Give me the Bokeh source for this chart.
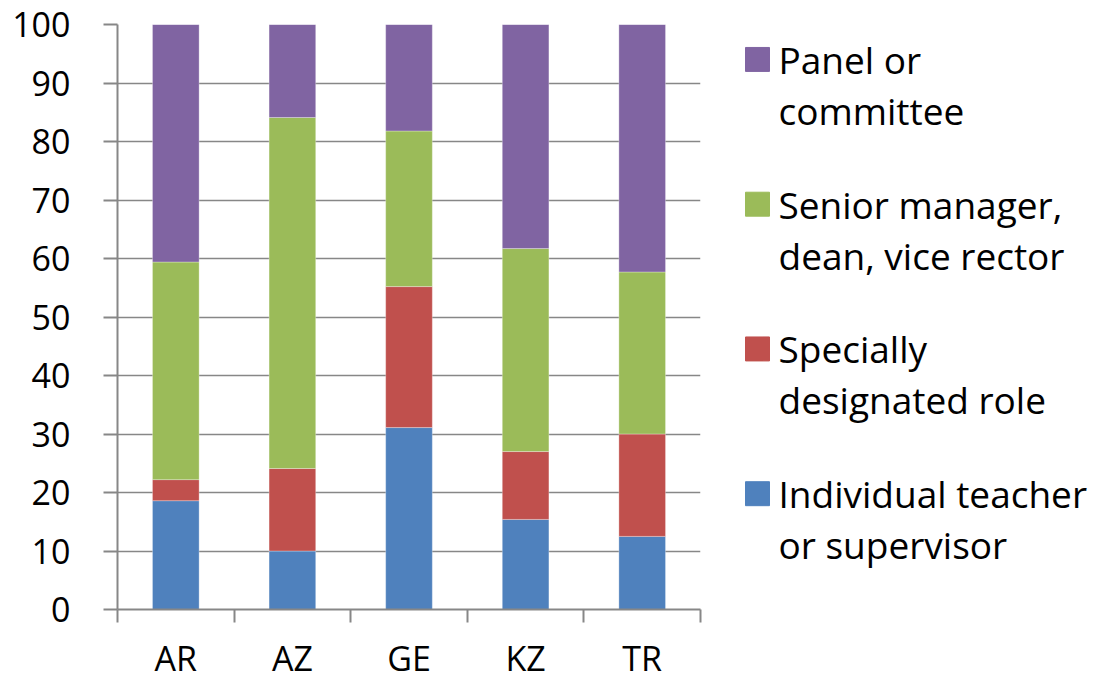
from bokeh.plotting import figure
from bokeh.layouts import row
from bokeh.models import Range1d, LinearAxis, FixedTicker, ColumnDataSource
from bokeh.core.properties import value
from bokeh.embed import file_html
from bokeh.resources import INLINE

categories = ["AR", "AZ", "GE", "KZ", "TR"]
individual = [18.6, 10.0, 31.1, 15.4, 12.5]
specially = [3.6, 14.1, 24.1, 11.6, 17.5]
senior = [37.2, 60.0, 26.6, 34.7, 27.7]
panel = [40.6, 15.9, 18.2, 38.3, 42.3]
series_names = ["Individual teacher\nor supervisor", "Specially\ndesignated role",
                "Senior manager,\ndean, vice rector", "Panel or\ncommittee"]
colors = ["#4F81BD", "#C0504D", "#9BBB59", "#8064A2"]
y_ticks = [0, 10, 20, 30, 40, 50, 60, 70, 80, 90, 100]

FONT = "Open Sans"
GRAY = "#878787"

W_MAIN, H = 720, 683
xs = [i + 0.5 for i in range(len(categories))]
bounds = list(range(len(categories) + 1))
src = ColumnDataSource(dict(x=xs, s0=individual, s1=specially, s2=senior, s3=panel))

p = figure(width=W_MAIN, height=H, x_range=Range1d(0, len(categories)), y_range=Range1d(0, 100),
           output_backend="svg", toolbar_location=None,
           min_border_left=117, min_border_right=20, min_border_top=24, min_border_bottom=73,
           x_axis_location=None, y_axis_location=None)
p.outline_line_color = None
p.vbar_stack(["s0", "s1", "s2", "s3"], x="x", width=0.4, color=colors, source=src,
             line_color="white", line_width=0.6, line_alpha=0.5)

yaxis = LinearAxis(ticker=FixedTicker(ticks=y_ticks))
yaxis.axis_line_color = GRAY
yaxis.axis_line_width = 2
yaxis.major_tick_line_color = GRAY
yaxis.major_tick_line_width = 2
yaxis.major_tick_out = 14
yaxis.major_tick_in = 0
yaxis.minor_tick_line_color = None
yaxis.major_label_standoff = 33
yaxis.major_label_text_font = FONT
yaxis.major_label_text_font_size = "34px"
yaxis.major_label_text_color = "black"
p.add_layout(yaxis, "left")

xaxis = LinearAxis(ticker=FixedTicker(ticks=xs, minor_ticks=bounds))
xaxis.major_label_overrides = {x: c for x, c in zip(xs, categories)}
xaxis.axis_line_color = GRAY
xaxis.axis_line_width = 2
xaxis.major_tick_line_color = None
xaxis.major_tick_out = 0
xaxis.major_tick_in = 0
xaxis.minor_tick_line_color = GRAY
xaxis.minor_tick_line_width = 2
xaxis.minor_tick_out = 13
xaxis.minor_tick_in = 0
xaxis.major_label_standoff = 12
xaxis.major_label_text_font = FONT
xaxis.major_label_text_font_size = "34px"
xaxis.major_label_text_color = "black"
p.add_layout(xaxis, "below")

p.xgrid.visible = False
p.ygrid.ticker = FixedTicker(ticks=y_ticks)
p.ygrid.grid_line_color = GRAY
p.ygrid.grid_line_width = 1.5

# legend panel (frame aligns with the chart frame vertically; data units = page pixels)
W_LEG = 372
lg = figure(width=W_LEG, height=H, x_range=Range1d(W_MAIN, W_MAIN + W_LEG), y_range=Range1d(610, 24),
            output_backend="svg", toolbar_location=None,
            min_border=0, x_axis_location=None, y_axis_location=None)
lg.outline_line_color = None
lg.grid.visible = False
order = [3, 2, 1, 0]
centers = [59, 204, 349, 494]
sq_x, sq_y, sq_c = [], [], []
tx, ty, tt = [], [], []
for k, idx in enumerate(order):
    sq_x.append(757)
    sq_y.append(centers[k])
    sq_c.append(colors[idx])
    for j, line in enumerate(series_names[idx].split("\n")):
        tx.append(778)
        ty.append(centers[k] + 51 * j)
        tt.append(line)
lg.rect(x=sq_x, y=sq_y, width=24, height=24, color=sq_c)
lg.text(x=tx, y=ty, text=tt, text_font=value(FONT), text_font_size="37px",
        text_baseline="middle", text_align="left", text_color="black")

layout = row(p, lg)
open("out.html", "w").write(file_html(layout, INLINE))
